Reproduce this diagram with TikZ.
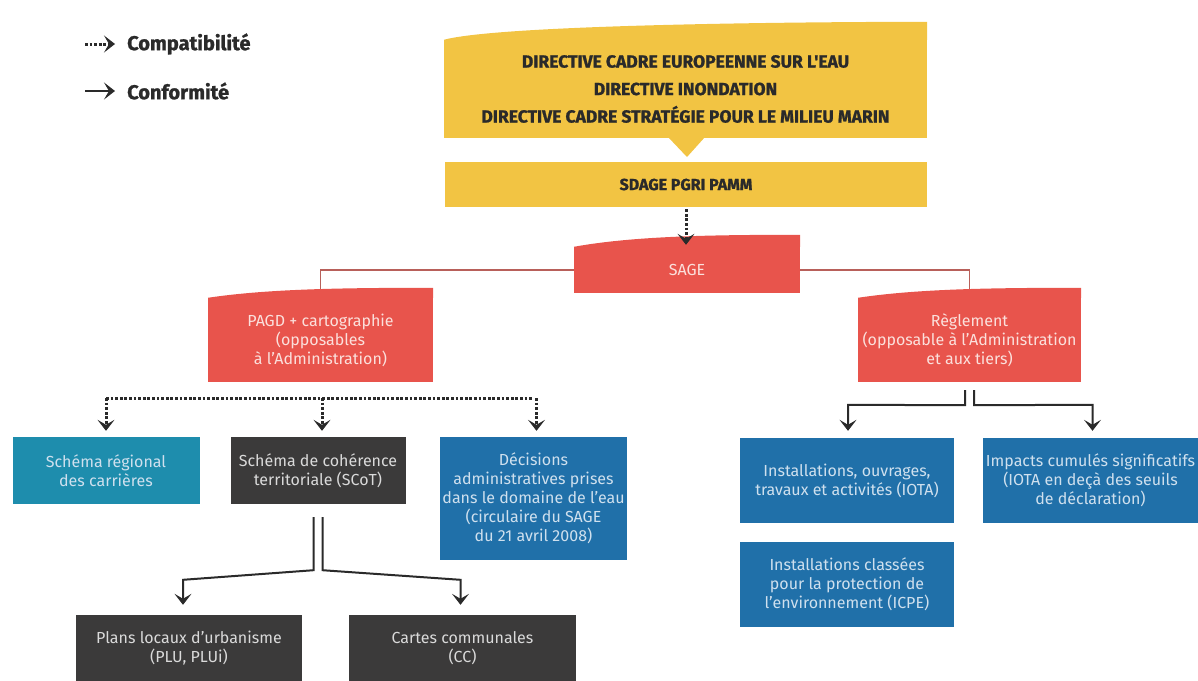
\documentclass[tikz,border=0pt]{standalone}
\usepackage{fontspec}
\setmainfont{Fira Sans}
\usetikzlibrary{arrows.meta}
\definecolor{yel}{HTML}{F2C443}
\definecolor{sred}{HTML}{E8544C}
\definecolor{tealb}{HTML}{1E8DAD}
\definecolor{dgray}{HTML}{3B3A3A}
\definecolor{sblue}{HTML}{2070A9}
\definecolor{lnk}{HTML}{2A2A2A}
\definecolor{redline}{HTML}{B8605A}
\definecolor{redtxt}{HTML}{FBE0DC}
\definecolor{graytxt}{HTML}{DADADA}
\definecolor{bluetxt}{HTML}{CFE0EE}
\newfontfamily\heavyfont{Fira Sans}[UprightFont=* Bold, FakeBold=1.2]
\pgfdeclarelayer{bg}
\pgfsetlayers{bg,main}
\newcommand\roofcap[3]{\fill[#1] (#2.north west) .. controls +(60,-0.9*#3) and +(-90,0) .. ([yshift=#3 pt]#2.north east) -- (#2.north east) -- cycle;}
\begin{document}
\begin{tikzpicture}[x=1pt,y=-1pt,
  box/.style={inner sep=0pt, align=center, font=\fontsize{16}{19}\selectfont},
  yelbox/.style={box, fill=yel, text=lnk, font=\fontsize{17.5}{27.5}\selectfont\heavyfont},
  redbox/.style={box, fill=sred, text=redtxt},
  tealbox/.style={box, fill=tealb, text=bluetxt},
  graybox/.style={box, fill=dgray, text=graytxt},
  bluebox/.style={box, fill=sblue, text=bluetxt},
  arr/.style={-{Stealth[length=11pt,width=17pt,inset=5pt,line width=1pt]}},
  conn/.style={draw=lnk, line width=2pt},
  dots/.style={draw=lnk, line width=3pt, dash pattern=on 2.8pt off 1.8pt},
  redconn/.style={draw=redline, line width=1.3pt},
  legend/.style={anchor=west, inner sep=0pt, font=\fontsize{20}{24}\selectfont\heavyfont, text=lnk}
]
\useasboundingbox (0,0) rectangle (1198,680);

% legend
\coordinate (l1a) at (85,44);
\coordinate (l1b) at (115,44);
\coordinate (l2a) at (85,91);
\coordinate (l2b) at (115,91);
\draw[dots, arr] (l1a) -- (l1b);
\draw[conn, line width=2.6pt, arr] (l2a) -- (l2b);
\node[legend] (lcompat) at (127,44) {Compatibilité};
\node[legend] (lconf) at (127,91) {Conformité};

% top yellow
\node[yelbox, minimum width=483pt, minimum height=98pt] (dir) at (685.5,89)
  {DIRECTIVE CADRE EUROPEENNE SUR L'EAU\\DIRECTIVE INONDATION\\DIRECTIVE CADRE STRATÉGIE POUR LE MILIEU MARIN};
\roofcap{yel}{dir}{18}
\fill[yel] (668,137) -- (687,157) -- (705,137) -- cycle;
\node[yelbox, minimum width=482pt, minimum height=45pt, font=\fontsize{16}{19}\selectfont\heavyfont] (sdage) at (686,184.5) {SDAGE PGRI PAMM};

% SAGE
\node[redbox, minimum width=226pt, minimum height=46pt] (sage) at (687,270) {SAGE};
\roofcap{sred}{sage}{12}
\node[redbox, minimum width=225pt, minimum height=84pt] (pagd) at (320.5,340)
  {PAGD + cartographie\\(opposables\\à l'Administration)};
\roofcap{sred}{pagd}{10}
\node[redbox, minimum width=223pt, minimum height=84pt] (regl) at (969.5,340)
  {Règlement\\(opposable à l'Administration\\et aux tiers)};
\roofcap{sred}{regl}{10}

% row 1
\node[tealbox, minimum width=187pt, minimum height=67pt] (carr) at (106,470.5)
  {Schéma régional\\des carrières};
\node[graybox, minimum width=175pt, minimum height=67pt] (scot) at (318,470.5)
  {Schéma de cohérence\\territoriale (SCoT)};
\node[bluebox, minimum width=187pt, minimum height=123pt] (dec) at (533.5,498.5)
  {Décisions\\administratives prises\\dans le domaine de l'eau\\(circulaire du SAGE\\du 21 avril 2008)};
\node[bluebox, minimum width=214pt, minimum height=85pt] (iota) at (847,480.5)
  {Installations, ouvrages,\\travaux et activités (IOTA)};
\node[bluebox, minimum width=214pt, minimum height=85pt] (icpe) at (847,584.5)
  {Installations classées\\pour la protection de\\l'environnement (ICPE)};
\node[bluebox, minimum width=215pt, minimum height=85pt] (imp) at (1090.5,480.5)
  {Impacts cumulés significatifs\\(IOTA en deçà des seuils\\de déclaration)};

% row 2
\node[graybox, minimum width=226pt, minimum height=66pt] (plu) at (189,648)
  {Plans locaux d'urbanisme\\(PLU, PLUi)};
\node[graybox, minimum width=227pt, minimum height=66pt] (cc) at (462.5,648)
  {Cartes communales\\(CC)};

% connectors
\begin{pgfonlayer}{bg}
\draw[redconn] (pagd.north) -- (pagd.north |- sage.center) -- (regl.north |- sage.center) -- (regl.north);
\end{pgfonlayer}
\draw[dots, arr] ([yshift=-2pt]sdage.south) -- ([yshift=2pt]sdage.south |- sage.north);

\coordinate (hl) at (0,398);
\draw[dots] (carr.north |- hl) -- (dec.north |- hl);
\draw[dots, arr, shorten >=6pt] (carr.north |- hl) -- (carr.north);
\draw[dots, arr, shorten >=6pt] ([xshift=4pt]scot.north |- hl) -- ([xshift=4pt]scot.north);
\draw[dots, arr, shorten >=6pt] ([xshift=3pt]dec.north |- hl) -- ([xshift=3pt]dec.north);

\draw[conn, arr] ([xshift=-4.5pt,yshift=-13pt]scot.south) -- ([xshift=-4.5pt,yshift=-66pt]scot.south) -- ([xshift=-6pt,yshift=35pt]plu.north) -- ([xshift=-6pt,yshift=10pt]plu.north);
\draw[conn, arr] ([xshift=4.5pt,yshift=-13pt]scot.south) -- ([xshift=4.5pt,yshift=-66pt]scot.south) -- ([xshift=-2pt,yshift=35pt]cc.north) -- ([xshift=-2pt,yshift=10pt]cc.north);

\draw[conn, arr] ([xshift=-4.5pt,yshift=-8pt]regl.south) -- ([xshift=-4.5pt,yshift=-23pt]regl.south) -- ([xshift=1pt,yshift=33pt]iota.north) -- ([xshift=1pt,yshift=7pt]iota.north);
\draw[conn, arr] ([xshift=4.5pt,yshift=-8pt]regl.south) -- ([xshift=4.5pt,yshift=-23pt]regl.south) -- ([xshift=2pt,yshift=33pt]imp.north) -- ([xshift=2pt,yshift=7pt]imp.north);
\end{tikzpicture}
\end{document}
